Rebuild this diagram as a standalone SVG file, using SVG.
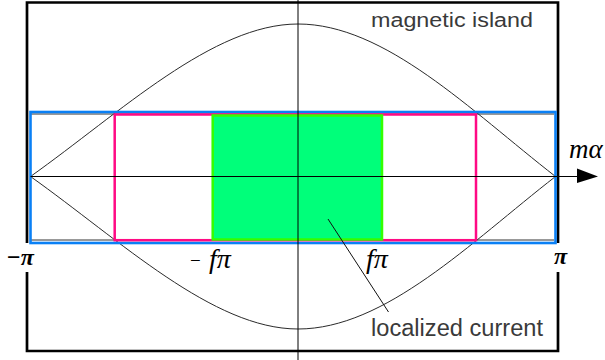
<svg xmlns="http://www.w3.org/2000/svg" width="605" height="360" viewBox="0 0 605 360">
<style>
.curve{fill:none;stroke:#2a2a2a;stroke-width:1}
.axis{fill:none;stroke:#000;stroke-width:1}
.lbl{font-family:"Liberation Sans","DejaVu Sans",sans-serif;fill:#3a3a3a}
.math{font-family:"Liberation Serif","DejaVu Serif",serif;fill:#000}
</style>
<rect width="605" height="360" fill="#fff"/>
<g id="frame">
<path d="M27,243 V2.5 H558 V243 M558,272 V351 H27 V272" fill="none" stroke="#000" stroke-width="2.7"/>
</g>
<g id="island-curves">
<path class="curve" d="M30.5,176.5 C120.5,112.5 213,24 298,24 C385,24 470,110 555.5,176.5"/>
<path class="curve" d="M30.5,176.5 C120.5,240.5 213,329 298,329 C385,329 470,243 555.5,176.5"/>
</g>
<g id="blue-region">
<path d="M31,114 H554 M31,240 H554" stroke="#333" stroke-width="1" fill="none"/>
<rect x="30.5" y="112" width="525" height="131" fill="none" stroke="#0a80f5" stroke-width="2.6"/>
</g>
<g id="magenta-region">
<rect x="114.7" y="114.5" width="361.3" height="125.7" fill="none" stroke="#ff0a84" stroke-width="2.5"/>
</g>
<g id="localized-current-region">
<rect x="212.7" y="115.5" width="169.3" height="124" fill="#00ff7a" stroke="#33ff00" stroke-width="2.5"/>
</g>
<g id="axes">
<line class="axis" x1="298" y1="0" x2="298" y2="360"/>
<line class="axis" x1="30.5" y1="176.5" x2="580" y2="176.5"/>
<polygon points="577,168.5 598,176.5 577,183" fill="#000"/>
</g>
<g id="connectors">
<line x1="328" y1="219" x2="388.5" y2="312" stroke="#111" stroke-width="1"/>
</g>
<g id="labels">
<text class="lbl" x="371" y="27" font-size="20" textLength="162" lengthAdjust="spacingAndGlyphs">magnetic island</text>
<text class="lbl" x="371" y="335.5" font-size="23.5" textLength="172" lengthAdjust="spacingAndGlyphs">localized current</text>
<text class="math" x="569" y="158" font-size="27" font-style="italic">mα</text>
<text class="math" x="7" y="265" font-size="24" font-weight="bold">−<tspan font-style="italic">π</tspan></text>
<text class="math" x="190" y="267" font-size="19">−</text>
<text class="math" x="209" y="268" font-size="28" font-style="italic">fπ</text>
<text class="math" x="366" y="268" font-size="28" font-style="italic">fπ</text>
<text class="math" x="554" y="264" font-size="24" font-weight="bold" font-style="italic">π</text>
</g>
</svg>
